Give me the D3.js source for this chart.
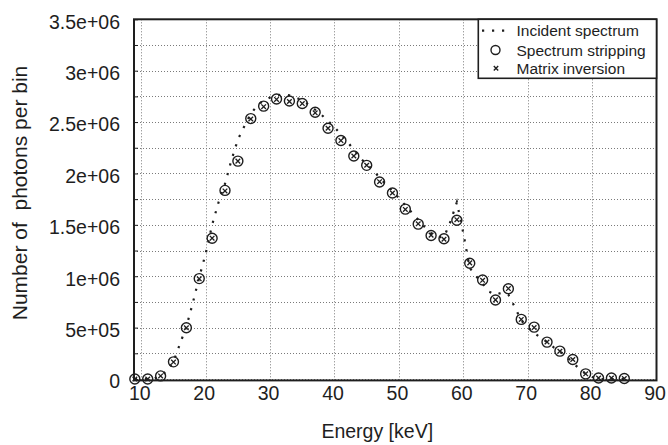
<!DOCTYPE html>
<html>
<head>
<meta charset="utf-8">
<script src="https://cdn.jsdelivr.net/npm/d3@7"></script>
<style>
  html, body { margin: 0; padding: 0; background: #fff; }
  svg { display: block; font-family: "Liberation Sans", Arial, Helvetica, sans-serif; }
</style>
</head>
<body>
<svg id="chart" width="668" height="445"></svg>
<script>
// Incident spectrum, 1 keV bins from 9 to 85 keV
const incidentEnergy = d3.range(9, 86, 1);
const incidentCounts = [
  0, 0, 0, 5e3, 3e4, 8e4, 1.7e5, 3.4e5, 5.1e5, 7.4e5,          // 9-18
  9.9e5, 1.22e6, 1.5e6, 1.72e6, 1.9e6, 2.13e6, 2.33e6, 2.46e6, 2.58e6, 2.66e6, // 19-28
  2.71e6, 2.74e6, 2.76e6, 2.77e6, 2.76e6, 2.74e6, 2.71e6, 2.67e6, 2.62e6, 2.57e6, // 29-38
  2.51e6, 2.45e6, 2.38e6, 2.31e6, 2.23e6, 2.15e6, 2.09e6, 2.03e6, 1.96e6, 1.89e6, // 39-48
  1.83e6, 1.76e6, 1.69e6, 1.62e6, 1.55e6, 1.48e6, 1.42e6, 1.38e6, 1.38e6, 1.53e6, // 49-58
  1.72e6, 1.42e6, 1.08e6, 1.0e6, 9.3e5, 8.5e5, 8.2e5, 8.4e5, 8.2e5, 7.0e5,      // 59-68
  5.7e5, 5.0e5, 4.5e5, 4.0e5, 3.6e5, 3.1e5, 2.7e5, 2.2e5, 1.6e5, 1.0e5,         // 69-78
  5e4, 2e4, 0, 0, 0, 0, 0                                                        // 79-85
];

// Reconstructed spectra, 2 keV bins
const binEnergy = d3.range(9, 86, 2);
const strippingCounts = [
  0, 0, 3e4, 1.67e5, 4.98e5, 9.77e5, 1.37e6, 1.835e6, 2.12e6, 2.534e6,
  2.655e6, 2.725e6, 2.705e6, 2.68e6, 2.596e6, 2.44e6, 2.32e6, 2.17e6, 2.079e6, 1.917e6,
  1.81e6, 1.653e6, 1.507e6, 1.396e6, 1.364e6, 1.545e6, 1.127e6, 9.64e5, 7.69e5, 8.78e5,
  5.8e5, 5.05e5, 3.59e5, 2.71e5, 1.9e5, 5e4, 1e4, 1e4, 5e3
];
const inversionCounts = [
  0, 0, 3e4, 1.65e5, 4.98e5, 9.75e5, 1.37e6, 1.83e6, 2.12e6, 2.53e6,
  2.65e6, 2.72e6, 2.70e6, 2.68e6, 2.59e6, 2.44e6, 2.32e6, 2.17e6, 2.08e6, 1.92e6,
  1.81e6, 1.65e6, 1.51e6, 1.40e6, 1.36e6, 1.55e6, 1.13e6, 9.6e5, 7.7e5, 8.8e5,
  5.8e5, 5.0e5, 3.6e5, 2.7e5, 1.9e5, 5e4, 1e4, 1e4, 5e3
];

const xTicks = [10, 20, 30, 40, 50, 60, 70, 80, 90];
const yTicks = [0, 5e5, 1e6, 1.5e6, 2e6, 2.5e6, 3e6, 3.5e6];
const yTickLabels = ["0", "5e+05", "1e+06", "1.5e+06", "2e+06", "2.5e+06", "3e+06", "3.5e+06"];
const yGrid = d3.range(0, 3.5e6 + 1, 2.5e5);
const legendLabels = ["Incident spectrum", "Spectrum stripping", "Matrix inversion"];

const ink = "#1e1e1e";
const svg = d3.select("#chart");

const plot = { left: 134, right: 656.5, top: 19.3, bottom: 380.4 };
const x = d3.scaleLinear().domain([8.87, 90]).range([plot.left, plot.right]);
const y = d3.scaleLinear().domain([0, 3.5e6]).range([379, plot.top]);

// dotted grid
const grid = svg.append("g").attr("stroke", "#7a7a7a").attr("stroke-width", 1)
  .attr("stroke-dasharray", "1,2").attr("fill", "none");
grid.selectAll("line.gx").data(xTicks.filter(t => t < 90)).join("line")
  .attr("x1", d => Math.round(x(d)) + 0.5).attr("x2", d => Math.round(x(d)) + 0.5)
  .attr("y1", plot.top).attr("y2", plot.bottom);
grid.selectAll("line.gy").data(yGrid.filter(t => t < 3.5e6)).join("line")
  .attr("x1", plot.left).attr("x2", plot.right)
  .attr("y1", d => Math.round(y(d)) + 0.5).attr("y2", d => Math.round(y(d)) + 0.5);

// axes with inward ticks, labels only
const yAxis = d3.axisLeft(y).tickValues(yGrid).tickSize(-4)
  .tickFormat(d => { const i = yTicks.indexOf(d); return i >= 0 ? yTickLabels[i] : ""; });
const gy = svg.append("g").attr("transform", `translate(${plot.left},0)`).call(yAxis);
gy.select(".domain").remove();
gy.selectAll(".tick line").attr("stroke", ink).attr("stroke-width", 1);
gy.selectAll(".tick text").attr("x", -14).attr("dy", "0.45em")
  .attr("font-size", 19.5).attr("fill", ink).attr("font-family", "Liberation Sans, Arial, sans-serif");

const xAxis = d3.axisBottom(x).tickValues(xTicks).tickSize(0).tickFormat(d3.format("d"));
const gx = svg.append("g").attr("transform", `translate(0,${plot.bottom})`).call(xAxis);
gx.select(".domain").remove();
gx.selectAll(".tick text").attr("y", 19.5).attr("dy", 0).attr("dx", -2)
  .attr("font-size", 19.5).attr("fill", ink).attr("font-family", "Liberation Sans, Arial, sans-serif");

// incident spectrum as a dotted line
const line = d3.line().x(d => x(d[0])).y(d => y(d[1]));
svg.append("path")
  .datum(incidentEnergy.map((e, i) => [e, incidentCounts[i]]))
  .attr("d", line)
  .attr("fill", "none").attr("stroke", ink).attr("stroke-width", 2.2)
  .attr("stroke-dasharray", "2.2,7.8");

// spectrum stripping: open circles
svg.append("g").selectAll("circle").data(binEnergy).join("circle")
  .attr("cx", (d) => x(d)).attr("cy", (d, i) => y(strippingCounts[i]))
  .attr("r", 5).attr("fill", "none").attr("stroke", ink).attr("stroke-width", 1.4);

// matrix inversion: small crosses
const cross = (cx, cy, s) => `M${cx - s},${cy - s}L${cx + s},${cy + s}M${cx - s},${cy + s}L${cx + s},${cy - s}`;
svg.append("g").selectAll("path").data(binEnergy).join("path")
  .attr("d", (d, i) => cross(x(d), y(inversionCounts[i]), 2.3))
  .attr("stroke", ink).attr("stroke-width", 1.3).attr("fill", "none");

// frame
svg.append("rect").attr("x", plot.left).attr("y", plot.top)
  .attr("width", plot.right - plot.left).attr("height", plot.bottom - plot.top)
  .attr("fill", "none").attr("stroke", ink).attr("stroke-width", 2);

// axis titles
svg.append("text").attr("x", (plot.left + plot.right) / 2 - 18).attr("y", 438)
  .attr("text-anchor", "middle").attr("font-size", 19.5).attr("fill", ink)
  .text("Energy [keV]");
svg.append("text").attr("transform", "translate(26.5,193) rotate(-90)")
  .attr("text-anchor", "middle").attr("font-size", 21).attr("fill", ink)
  .attr("xml:space", "preserve").style("white-space", "pre")
  .text("Number of  photons per bin");

// legend
const lg = svg.append("g");
lg.append("rect").attr("x", 478.3).attr("y", plot.top).attr("width", plot.right - 478.3).attr("height", 59)
  .attr("fill", "#fff").attr("stroke", ink).attr("stroke-width", 1.6);
const rowY = [30.7, 50, 68.3];
lg.selectAll("text").data(legendLabels).join("text")
  .attr("x", 516.5).attr("y", (d, i) => rowY[i] + 5.5)
  .attr("font-size", 15.5).attr("fill", ink).text(d => d);
lg.append("line").attr("x1", 482).attr("x2", 506).attr("y1", rowY[0]).attr("y2", rowY[0])
  .attr("stroke", ink).attr("stroke-width", 2.2).attr("stroke-dasharray", "2.2,7.8");
lg.append("circle").attr("cx", 495.5).attr("cy", rowY[1]).attr("r", 4.5)
  .attr("fill", "none").attr("stroke", ink).attr("stroke-width", 1.4);
lg.append("path").attr("d", cross(496, rowY[2], 2.2))
  .attr("stroke", ink).attr("stroke-width", 1.4).attr("fill", "none");
</script>
</body>
</html>
